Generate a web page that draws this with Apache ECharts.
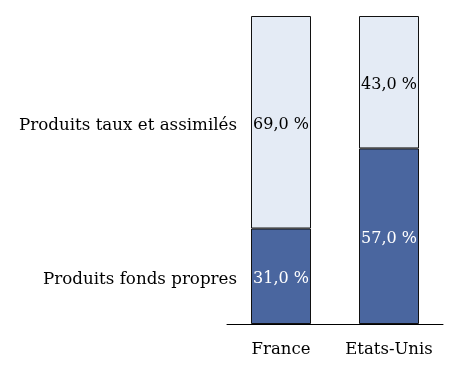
<!DOCTYPE html>
<html><head><meta charset="utf-8">
<script src="https://cdn.jsdelivr.net/npm/echarts@6/dist/echarts.min.js"></script>
<style>html,body{margin:0;padding:0;background:#fff}#c{width:454px;height:375px}</style>
</head><body><div id="c"></div>
<script>
var categories = ['France', 'Etats-Unis'];
var seriesNames = ['Produits fonds propres', 'Produits taux et assimilés'];
var fondsPropres = [31.0, 57.0];
var tauxAssimiles = [69.0, 43.0];

var FONT = 'DejaVu Serif';
function fmt(p){ return p.value.toFixed(1).replace('.', ',') + ' %'; }

var chart = echarts.init(document.getElementById('c'), null, {renderer:'canvas'});
chart.setOption({
  animation: false,
  grid: {left: 227, right: 11, top: 16, bottom: 51},
  xAxis: {
    type: 'category', data: categories,
    axisLine: {lineStyle: {color: '#000', width: 1}},
    axisTick: {show: false},
    axisLabel: {interval: 0, fontFamily: FONT, fontSize: 16.5, color: '#000', margin: 17}
  },
  yAxis: {type: 'value', min: 0, max: 100, show: false, splitLine: {show: false}},
  series: [
    {
      name: seriesNames[0], type: 'bar', stack: 's', data: fondsPropres, barWidth: 60,
      itemStyle: {color: '#4A669F', borderColor: '#111', borderWidth: 1},
      label: {show: true, position: 'inside', offset: [0, 3], formatter: fmt, fontFamily: FONT, fontSize: 16, color: '#fff'},
      markPoint: {
        symbol: 'circle', symbolSize: 0,
        label: {show: true, position: 'left', distance: 44, offset: [0, 3], formatter: seriesNames[0], fontFamily: FONT, fontSize: 16.7, color: '#000'},
        data: [{coord: [0, fondsPropres[0] / 2]}]
      }
    },
    {
      name: seriesNames[1], type: 'bar', stack: 's', data: tauxAssimiles, barWidth: 60,
      itemStyle: {color: '#E4EBF5', borderColor: '#111', borderWidth: 1},
      label: {show: true, position: 'inside', offset: [0, 3], formatter: fmt, fontFamily: FONT, fontSize: 16, color: '#000'},
      markPoint: {
        symbol: 'circle', symbolSize: 0,
        label: {show: true, position: 'left', distance: 44, offset: [0, 3], formatter: seriesNames[1], fontFamily: FONT, fontSize: 16.7, color: '#000'},
        data: [{coord: [0, fondsPropres[0] + tauxAssimiles[0] / 2]}]
      }
    }
  ]
});
</script></body></html>
